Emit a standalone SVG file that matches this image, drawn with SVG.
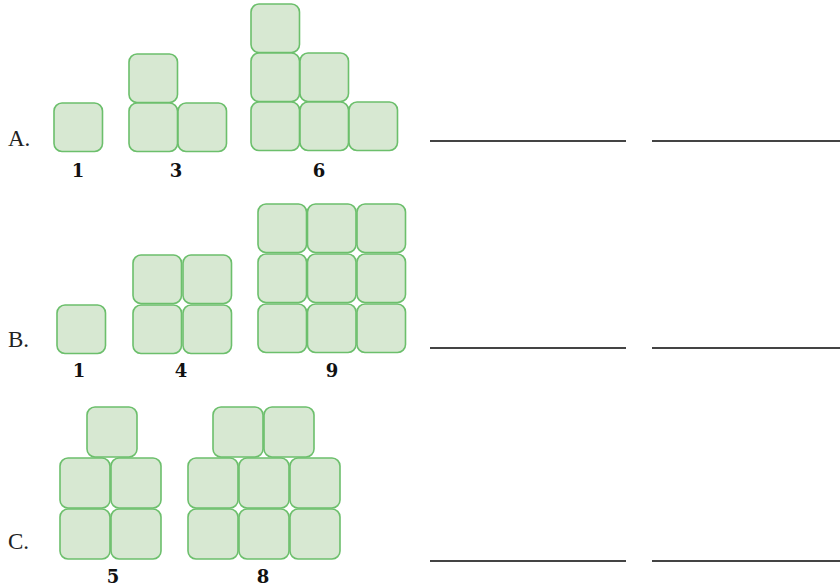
<svg xmlns="http://www.w3.org/2000/svg" width="840" height="587" viewBox="0 0 840 587">
<defs>
<style>
.sq{fill:#d7e8d2;stroke:#6cbf6c;stroke-width:1.6}
.lbl{font-family:"DejaVu Serif","Liberation Serif",serif;font-weight:bold;font-size:18px;fill:#111;text-anchor:middle}
.let{font-family:"Liberation Serif","DejaVu Serif",serif;font-size:23px;fill:#222}
.ln{stroke:#444;stroke-width:2}
</style>
<rect id="s" class="sq" width="48.5" height="48.5" rx="8" ry="8"/>
<rect id="t" class="sq" width="50" height="50" rx="8" ry="8"/>
</defs>
<rect width="840" height="587" fill="#fff"/>

<g id="rowA">
<text class="let" x="8" y="146">A.</text>
<g id="A1"><use href="#s" x="54" y="103"/><text class="lbl" x="78" y="177">1</text></g>
<g id="A3">
<use href="#s" x="129" y="54"/>
<use href="#s" x="129" y="103"/><use href="#s" x="178" y="103"/>
<text class="lbl" x="176" y="177">3</text>
</g>
<g id="A6">
<use href="#s" x="251" y="4"/>
<use href="#s" x="251" y="53"/><use href="#s" x="300" y="53"/>
<use href="#s" x="251" y="102"/><use href="#s" x="300" y="102"/><use href="#s" x="349" y="102"/>
<text class="lbl" x="319" y="177">6</text>
</g>
</g>

<g id="rowB">
<text class="let" x="8" y="347">B.</text>
<g id="B1"><use href="#s" x="57" y="305"/><text class="lbl" x="79" y="377">1</text></g>
<g id="B4">
<use href="#s" x="133" y="255"/><use href="#s" x="183" y="255"/>
<use href="#s" x="133" y="305"/><use href="#s" x="183" y="305"/>
<text class="lbl" x="181" y="377">4</text>
</g>
<g id="B9">
<use href="#s" x="258" y="204"/><use href="#s" x="307.5" y="204"/><use href="#s" x="357" y="204"/>
<use href="#s" x="258" y="254"/><use href="#s" x="307.5" y="254"/><use href="#s" x="357" y="254"/>
<use href="#s" x="258" y="304"/><use href="#s" x="307.5" y="304"/><use href="#s" x="357" y="304"/>
<text class="lbl" x="332" y="377">9</text>
</g>
</g>

<g id="rowC">
<text class="let" x="8" y="549">C.</text>
<g id="C5">
<use href="#t" x="87" y="407"/>
<use href="#t" x="60" y="458"/><use href="#t" x="111" y="458"/>
<use href="#t" x="60" y="509"/><use href="#t" x="111" y="509"/>
<text class="lbl" x="113" y="583">5</text>
</g>
<g id="C8">
<use href="#t" x="213" y="407"/><use href="#t" x="264" y="407"/>
<use href="#t" x="188" y="458"/><use href="#t" x="239" y="458"/><use href="#t" x="290" y="458"/>
<use href="#t" x="188" y="509"/><use href="#t" x="239" y="509"/><use href="#t" x="290" y="509"/>
<text class="lbl" x="263" y="583">8</text>
</g>
</g>

<g id="connectors">
<line class="ln" x1="430" y1="141" x2="626" y2="141"/>
<line class="ln" x1="652" y1="141" x2="840" y2="141"/>
<line class="ln" x1="430" y1="348" x2="626" y2="348"/>
<line class="ln" x1="652" y1="348" x2="840" y2="348"/>
<line class="ln" x1="430" y1="561" x2="626" y2="561"/>
<line class="ln" x1="652" y1="561" x2="840" y2="561"/>
</g>
</svg>
